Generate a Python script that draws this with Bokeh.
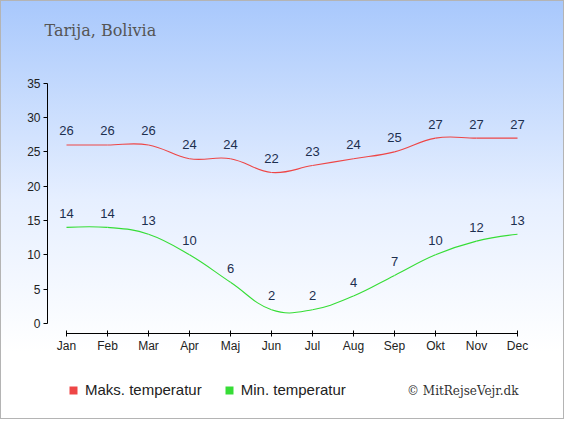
from bokeh.plotting import figure
from bokeh.models import Range1d, FixedTicker, Legend, LegendItem, Label
from bokeh.core.properties import value
from bokeh.embed import file_html
from bokeh.resources import INLINE

# ---- data ----
months = ["Jan", "Feb", "Mar", "Apr", "Maj", "Jun", "Jul", "Aug", "Sep", "Okt", "Nov", "Dec"]
max_temp = [26, 26, 26, 24, 24, 22, 23, 24, 25, 27, 27, 27]
min_temp = [14, 14, 13, 10, 6, 2, 2, 4, 7, 10, 12, 13]
y_ticks = [0, 5, 10, 15, 20, 25, 30, 35]
title_text = "Tarija, Bolivia"
max_name = "Maks. temperatur"
min_name = "Min. temperatur"
credit_text = "© MitRejseVejr.dk"

RED = "#ee4646"
GREEN = "#36dd36"
LABEL_COLOR = "#1d2f4f"
SANS = "Liberation Sans"
SERIF = "DejaVu Serif"

W, H = 564, 419          # figure size (page margin 8px)
PX_X = 41.0              # pixels per month
PX_Y = 6.866             # pixels per degree
X0_PX, Y0_PX = 66, 323   # pixel position of (Jan, 0)


def spline_controls(ys, smoothing=1.5):
    """Bezier control points for a smooth curve through the data points."""
    n = len(ys)
    xs = list(range(n))
    lc = [(xs[i], ys[i]) for i in range(n)]
    rc = [(xs[i], ys[i]) for i in range(n)]
    d = smoothing + 1
    for i in range(1, n - 1):
        x, y = xs[i], ys[i]
        lx, ly = xs[i - 1], ys[i - 1]
        nx, ny = xs[i + 1], ys[i + 1]
        lcx = (smoothing * x + lx) / d
        lcy = (smoothing * y + ly) / d
        rcx = (smoothing * x + nx) / d
        rcy = (smoothing * y + ny) / d
        corr = (rcy - lcy) * (rcx - x) / (rcx - lcx) + y - rcy
        lc[i] = (lcx, lcy + corr)
        rc[i] = (rcx, rcy + corr)
    seg = dict(x0=[], y0=[], x1=[], y1=[], cx0=[], cy0=[], cx1=[], cy1=[])
    for i in range(n - 1):
        seg["x0"].append(xs[i]); seg["y0"].append(ys[i])
        seg["x1"].append(xs[i + 1]); seg["y1"].append(ys[i + 1])
        seg["cx0"].append(rc[i][0]); seg["cy0"].append(rc[i][1])
        seg["cx1"].append(lc[i + 1][0]); seg["cy1"].append(lc[i + 1][1])
    return seg


x_start = -X0_PX / PX_X
y_start = -(H - Y0_PX) / PX_Y
p = figure(
    width=W, height=H,
    x_range=Range1d(x_start, x_start + W / PX_X),
    y_range=Range1d(y_start, y_start + H / PX_Y),
    output_backend="svg", toolbar_location=None,
    min_border=0, min_border_left=0, min_border_right=0, min_border_top=0, min_border_bottom=0,
)
p.styles = {
    "background": "linear-gradient(to bottom, #a8c8fc 0px, #e6efff 200px, #ffffff 352px, #ffffff 100%)",
    "outline": "1px solid #b4b4b4",
    "outline-offset": "-1px",
}
p.background_fill_alpha = 0
p.border_fill_alpha = 0
p.outline_line_color = None
p.xgrid.visible = False
p.ygrid.visible = False

xi = list(range(len(months)))

# lines
p.bezier(**spline_controls(max_temp), line_color=RED, line_width=1.1)
p.bezier(**spline_controls(min_temp), line_color=GREEN, line_width=1.1)

# data labels
for ys in (max_temp, min_temp):
    p.text(x=xi, y=ys, text=[str(v) for v in ys], text_align="center",
           text_baseline="alphabetic", y_offset=-14,
           text_font=value(SANS), text_font_size="13px", text_color=LABEL_COLOR)

# axes (drawn at fixed positions inside the full-size frame)
xa = p.xaxis[0]
xa.fixed_location = -10 / PX_Y
xa.ticker = FixedTicker(ticks=xi)
xa.major_label_overrides = {i: m for i, m in enumerate(months)}
xa.bounds = (0, len(months) - 1)
xa.major_tick_in = 3
xa.major_tick_out = 3
xa.minor_tick_line_color = None
xa.major_label_standoff = 2

ya = p.yaxis[0]
ya.fixed_location = -19 / PX_X
ya.ticker = FixedTicker(ticks=y_ticks)
ya.bounds = (y_ticks[0], y_ticks[-1])
ya.major_tick_in = 0
ya.major_tick_out = 4
ya.minor_tick_line_color = None
ya.major_label_standoff = 3

for ax in (xa, ya):
    ax.axis_line_color = "#000000"
    ax.major_tick_line_color = "#000000"
    ax.major_label_text_font = SANS
    ax.major_label_text_font_size = "12px"
    ax.major_label_text_color = "#222222"

# legend (square swatches from renderers with no visible data)
nan = float("nan")
r_max = p.quad(left=[nan], right=[nan], top=[nan], bottom=[nan], fill_color=RED, line_color=None)
r_min = p.quad(left=[nan], right=[nan], top=[nan], bottom=[nan], fill_color=GREEN, line_color=None)
legend = Legend(
    items=[LegendItem(label=max_name, renderers=[r_max]),
           LegendItem(label=min_name, renderers=[r_min])],
    location=(68, 21), orientation="horizontal",
    glyph_width=10, glyph_height=10, label_height=10, label_standoff=7, spacing=22,
    padding=0, margin=0, border_line_color=None, background_fill_alpha=0,
    label_text_font=SANS, label_text_font_size="15px", label_text_color="#222222",
)
p.add_layout(legend)

# title and credit
p.add_layout(Label(x=44, y=H - 30, x_units="screen", y_units="screen", text=title_text,
                   text_font=SERIF, text_font_size="16px", text_color="#555555",
                   text_baseline="alphabetic", text_align="left"))
p.add_layout(Label(x=518, y=29, x_units="screen", y_units="screen", text=credit_text,
                   text_font=SERIF, text_font_size="12px", text_color="#333333",
                   text_baseline="alphabetic", text_align="right"))

open("out.html", "w").write(file_html(p, INLINE))
